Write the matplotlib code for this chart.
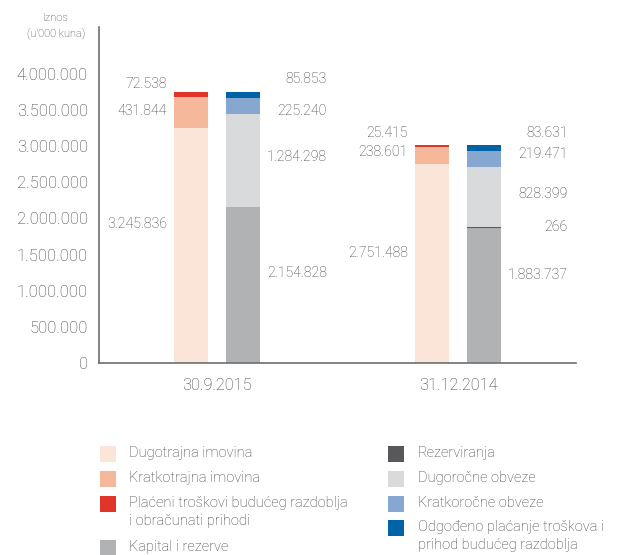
import matplotlib.pyplot as plt
from matplotlib.patches import Rectangle

# Podaci (u '000 kuna)
datumi = ['30.9.2015', '31.12.2014']

# Aktiva (lijevi stupac)
dugotrajna = [3245836, 2751488]
kratkotrajna = [431844, 238601]
placeni = [72538, 25415]

# Pasiva (desni stupac)
kapital = [2154828, 1883737]
rezerviranja = [0, 266]
dugorocne = [1284298, 828399]
kratkorocne = [225240, 219471]
odgodeno = [85853, 83631]

# Boje
c_dug = '#fbe4d8'
c_krat = '#f5b89b'
c_plac = '#e2352a'
c_kap = '#b1b2b4'
c_rez = '#58585a'
c_dugor = '#d9dadc'
c_kratk = '#86a8d0'
c_odg = '#0062a7'
siva = '#3e3e40'

plt.rcParams['font.family'] = ['Roboto', 'DejaVu Sans']
plt.rcParams['font.weight'] = 'light'

fig = plt.figure(figsize=(6.19, 5.55), dpi=100)
ax = fig.add_axes([99 / 619, 192 / 555, 477 / 619, 336 / 555])

sirina = 0.141
pomak = 0.108
x = [0, 1]

aktiva = [(dugotrajna, c_dug), (kratkotrajna, c_krat), (placeni, c_plac)]
pasiva = [(kapital, c_kap), (rezerviranja, c_rez), (dugorocne, c_dugor),
          (kratkorocne, c_kratk), (odgodeno, c_odg)]

for i in range(2):
    dno = 0
    for vrijednosti, boja in aktiva:
        ax.bar(x[i] - pomak, vrijednosti[i], sirina, bottom=dno, color=boja, linewidth=0)
        dno += vrijednosti[i]
    dno = 0
    for vrijednosti, boja in pasiva:
        if vrijednosti[i] == 0:
            continue
        # rezerviranja su premala pa se crtaju kao tanka linija
        lw = 1.5 if vrijednosti is rezerviranja else 0
        ax.bar(x[i] + pomak, vrijednosti[i], sirina, bottom=dno, color=boja,
               edgecolor=boja, linewidth=lw)
        dno += vrijednosti[i]

# Oznake vrijednosti - lijevo od aktive, desno od pasive (y polozaji u podacima)
lijeve_y = [[1924000, 3488000, 3862000], [1522000, 2920000, 3183000]]
desne_y = [[1246000, None, 2851000, 3488000, 3931000],
           [1218000, 1882000, 2339000, 2893000, 3183000]]

fmt = lambda v: f'{v:,}'.replace(',', '.')

for i in range(2):
    for (vrijednosti, _), yy in zip(aktiva, lijeve_y[i]):
        ax.annotate(fmt(vrijednosti[i]), (x[i] - pomak - sirina / 2, yy),
                    xytext=(-5, 0), textcoords='offset points', ha='right', va='center',
                    fontsize=10.2, color=siva)
    for (vrijednosti, _), yy in zip(pasiva, desne_y[i]):
        if yy is None:
            continue
        ax.annotate(fmt(vrijednosti[i]), (x[i] + pomak + sirina / 2, yy),
                    xytext=(48, 0), textcoords='offset points', ha='right', va='center',
                    fontsize=10.2, color=siva)

ax.set_xlim(-0.49, 1.49)
ax.set_ylim(0, 4650000)
ax.set_yticks(range(0, 4000001, 500000))
ax.set_yticklabels([fmt(v) for v in range(0, 4000001, 500000)])
ax.set_xticks(x)
ax.set_xticklabels(datumi)
ax.tick_params(length=0, labelsize=12, colors=siva, pad=8)
ax.tick_params(axis='x', pad=11, labelsize=11.8)
for s in ['top', 'right']:
    ax.spines[s].set_visible(False)
for s in ['left', 'bottom']:
    ax.spines[s].set_color('#6d6e70')
    ax.spines[s].set_linewidth(1.2)

fig.text(56 / 619, 1 - 18 / 555, 'Iznos', ha='center', va='center', fontsize=8, color=siva)
fig.text(56 / 619, 1 - 34 / 555, "(u'000 kuna)", ha='center', va='center', fontsize=8, color=siva)

# Legenda
legenda_l = [('Dugotrajna imovina', c_dug, 453), ('Kratkotrajna imovina', c_krat, 478),
             ('Plaćeni troškovi budućeg razdoblja\ni obračunati prihodi', c_plac, 503),
             ('Kapital i rezerve', c_kap, 547)]
legenda_d = [('Rezerviranja', c_rez, 453), ('Dugoročne obveze', c_dugor, 478),
             ('Kratkoročne obveze', c_kratk, 503),
             ('Odgođeno plaćanje troškova i\nprihod budućeg razdoblja', c_odg, 527)]

for stavke, kx, tx in [(legenda_l, 100, 129), (legenda_d, 388, 418)]:
    for tekst, boja, py in stavke:
        fig.add_artist(Rectangle((kx / 619, 1 - (py + 9) / 555), 16 / 619, 16 / 555,
                                 facecolor=boja, edgecolor='none', transform=fig.transFigure))
        fig.text(tx / 619, 1 - (py - 7) / 555, tekst, ha='left', va='top',
                 fontsize=10.5, color=siva, linespacing=1.4)

fig.savefig('out.png', dpi=100)
